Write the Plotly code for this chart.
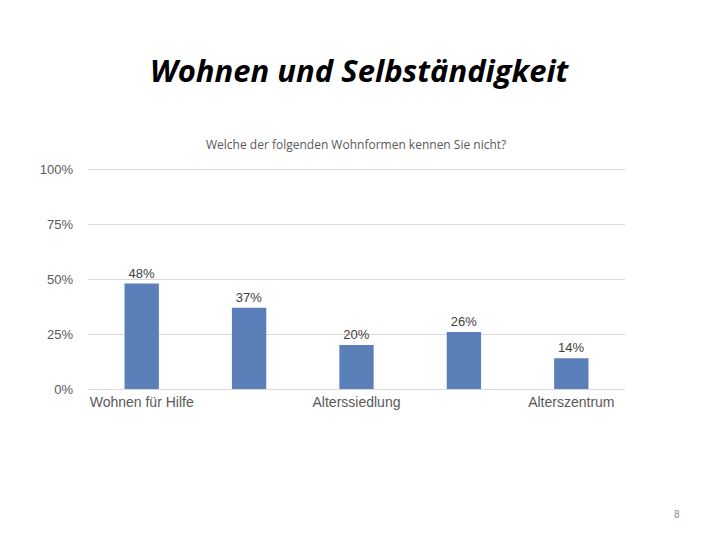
import plotly.graph_objects as go

categories = ["Wohnen für Hilfe", "Wohnform 2", "Alterssiedlung", "Wohnform 4", "Alterszentrum"]
tick_labels = ["Wohnen für Hilfe", "", "Alterssiedlung", "", "Alterszentrum"]
values = [0.48, 0.37, 0.20, 0.26, 0.14]
value_labels = ["48%", "37%", "20%", "26%", "14%"]
y_ticks = [0, 0.25, 0.5, 0.75, 1.0]
y_tick_labels = ["0%", "25%", "50%", "75%", "100%"]

# page body has an 8px default margin, so positions are offset by -8
OFF = 8
W, H = 720, 540
l, r, t, b = 88 - OFF, 95 + OFF, 168 - OFF, 151 + OFF
pw, ph = W - l - r, H - t - b
def px(x): return (x - OFF - l) / pw
def py(y): return (H - b - (y - OFF)) / ph

fig = go.Figure()
fig.add_trace(go.Bar(
    x=categories, y=values,
    marker=dict(color="#5b80b9", line=dict(width=0)),
    text=value_labels, textposition="outside",
    textfont=dict(family="Liberation Sans, Arial", size=13, color="#404040"),
    cliponaxis=False,
))

fig.update_layout(
    width=W, height=H,
    paper_bgcolor="white", plot_bgcolor="white",
    margin=dict(l=l, r=r, t=t, b=b, autoexpand=False),
    showlegend=False,
    bargap=0.68,
    xaxis=dict(
        tickmode="array", tickvals=categories, ticktext=tick_labels,
        tickfont=dict(family="Liberation Sans, Arial", size=14, color="#595959"),
        showgrid=False, showline=True, linecolor="#d9d9d9", linewidth=1,
        ticks="", automargin=False,
    ),
    yaxis=dict(
        range=[0, 1.006], tickvals=y_ticks, ticktext=y_tick_labels,
        tickfont=dict(family="Liberation Sans, Arial", size=13, color="#595959"),
        showgrid=True, gridcolor="#d9d9d9", gridwidth=1,
        zeroline=False, showline=False, ticks="", ticklabelstandoff=14,
        automargin=False,
    ),
    annotations=[
        dict(text="<b><i>Wohnen und Selbständigkeit</i></b>", x=px(360), y=py(70),
             xref="paper", yref="paper", showarrow=False, xanchor="center", yanchor="middle",
             font=dict(family="Open Sans", size=31, color="black")),
        dict(text="Welche der folgenden Wohnformen kennen Sie nicht?", x=px(356), y=py(144),
             xref="paper", yref="paper", showarrow=False, xanchor="center", yanchor="middle",
             font=dict(family="Open Sans", size=12, color="#595959")),
        dict(text="8", x=px(677), y=py(514), xref="paper", yref="paper", showarrow=False,
             xanchor="center", yanchor="middle",
             font=dict(family="Liberation Sans, Arial", size=10, color="#8c8c8c")),
    ],
)

fig.write_html("out.html")
